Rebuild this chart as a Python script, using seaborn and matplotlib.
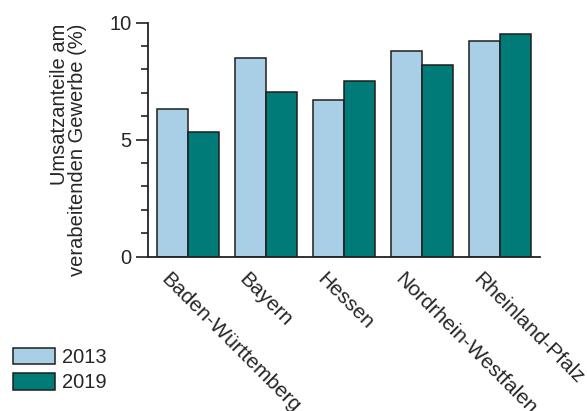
import matplotlib
matplotlib.use("Agg")
import matplotlib.pyplot as plt
import matplotlib.transforms as mtransforms
from matplotlib.ticker import MultipleLocator
import seaborn as sns
import pandas as pd

states = ["Baden-Württemberg", "Bayern", "Hessen", "Nordrhein-Westfalen", "Rheinland-Pfalz"]
years = ["2013", "2019"]
values_2013 = [6.30, 8.50, 6.68, 8.79, 9.20]
values_2019 = [5.34, 7.02, 7.51, 8.19, 9.50]
y_ticks = [0, 5, 10]

df = pd.DataFrame({
    "Land": states * 2,
    "Jahr": [years[0]] * len(states) + [years[1]] * len(states),
    "Wert": values_2013 + values_2019,
})

sns.set_theme(style="ticks")
plt.rcParams["font.family"] = ["Liberation Sans", "DejaVu Sans"]

fig = plt.figure(figsize=(5.87, 4.11), dpi=100)
ax = fig.add_axes([148 / 587, 1 - 256.7 / 411, (540 - 148) / 587, (256.7 - 22.7) / 411])

palette = {"2013": "#a9cfe6", "2019": "#007b78"}
sns.barplot(data=df, x="Land", y="Wert", hue="Jahr", order=states, hue_order=years,
            palette=palette, edgecolor="#1e1e1e", linewidth=1.1, width=0.8,
            saturation=1, ax=ax, legend=True)

ax.set_xlim(-0.51, 4.51)
ax.set_ylim(0, 10)
ax.set_yticks(y_ticks)
ax.yaxis.set_minor_locator(MultipleLocator(1))
ax.tick_params(axis="y", which="major", length=9, width=1.2, labelsize=14.5, pad=3, color="#222222")
ax.tick_params(axis="y", which="minor", length=5, width=1.2, color="#222222")
ax.tick_params(axis="x", length=0, pad=9, labelsize=15)
for s in ["top", "right"]:
    ax.spines[s].set_visible(False)
for s in ["left", "bottom"]:
    ax.spines[s].set_linewidth(1.3)
    ax.spines[s].set_color("#222222")

ax.set_xlabel("")
ax.set_ylabel("Umsatzanteile am\nverabeitenden Gewerbe (%)", fontsize=14.5,
              multialignment="right", linespacing=0.95)
ax.yaxis.set_label_coords(-0.156, 0.456)

offset = mtransforms.ScaledTranslation(-0.17, 0, fig.dpi_scale_trans)
for lab in ax.get_xticklabels():
    lab.set_rotation(-45)
    lab.set_ha("left")
    lab.set_va("top")
    lab.set_rotation_mode("anchor")
    lab.set_transform(lab.get_transform() + offset)

handles, labels = ax.get_legend_handles_labels()
ax.get_legend().remove()
fig.legend(handles, labels, loc="upper left", bbox_to_anchor=(13 / 587, 1 - 348 / 411),
           frameon=False, fontsize=14.5, handlelength=2.1, handleheight=0.85,
           handletextpad=0.35, labelspacing=0.32, borderpad=0, borderaxespad=0)

fig.savefig("out.png", dpi=100)
